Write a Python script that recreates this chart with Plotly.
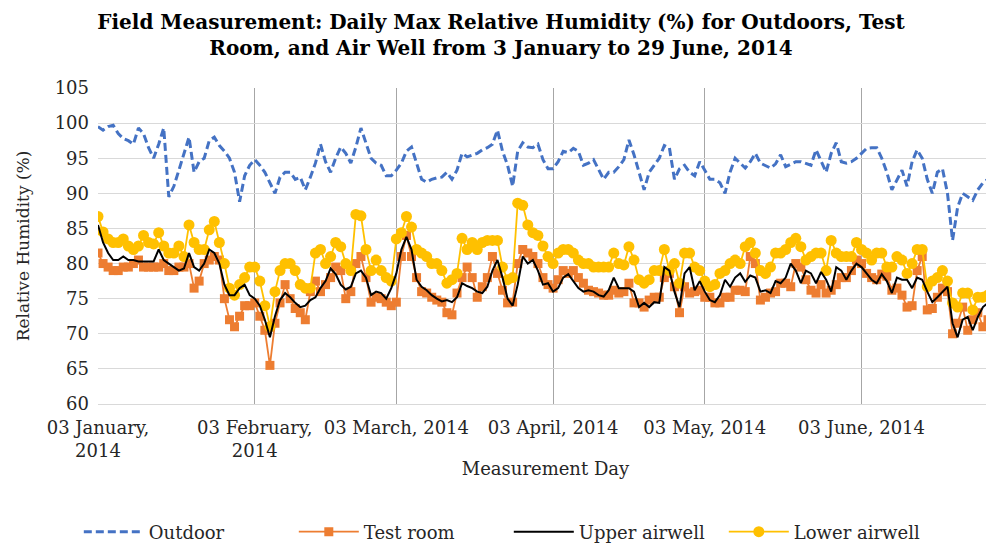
import pandas as pd
import plotly.graph_objects as go

start_date = "2014-01-03"
n_days = 178
dates = pd.date_range(start_date, periods=n_days, freq="D")

outdoor = [
    99.5, 99, 99.5, 99.7, 98.5, 97.8, 97.5, 97, 99.3, 98.5,
    96.5, 95, 97, 99.3, 89.5, 91, 93.3, 95.5, 98, 93,
    94.5, 95, 97.5, 98, 96.8, 96, 95, 93, 88.8, 92.5,
    94, 94.8, 94, 93, 91.5, 90, 92.3, 93, 93, 92,
    92.3, 90.5, 92.3, 94.3, 97, 94.5, 93, 95, 96.6, 95.7,
    94.3, 96.6, 99.3, 97, 95, 94.3, 94, 92.5, 92.5, 93.3,
    94.3, 96, 96.6, 94.3, 92, 91.6, 92, 92.2, 92.3, 93,
    92, 93.3, 95.7, 95.2, 95.5, 95.7, 96.2, 96.5, 97, 99,
    96, 94, 91, 96, 97.2, 96.6, 96.5, 97, 94.8, 93.5,
    93.5, 94.5, 96, 95.8, 96.4, 96, 94, 94.3, 94.8, 93.3,
    92, 93, 93, 93.8, 94.8, 97.6, 95.5, 93, 90.5, 93,
    94, 95, 96.8, 96.5, 92, 93.5, 94, 93, 92.5, 94.5,
    93.3, 92, 92, 91.5, 90, 93, 95, 94.3, 93.6, 94.5,
    95.7, 94.3, 94, 93.6, 94.2, 95.5, 93.8, 94.2, 94.5, 94.5,
    94.2, 94, 96.2, 94.5, 93, 95.7, 97.2, 94.5, 94.3, 94.5,
    95, 95.7, 96.4, 96.5, 96.5, 95, 93, 90.5, 92, 93.3,
    91, 94.5, 96.2, 95, 92, 90, 93, 93.5, 90, 83.3,
    88, 90, 89.5, 89, 90.5, 91.5, 92, 95.7,
]

test_room = [
    81.5, 80, 79.5, 79, 79, 79.5, 79.5, 80, 80.5, 79.5,
    79.5, 79.5, 79.5, 80, 79, 79, 79.5, 79.5, 80, 76.5,
    77.5, 80, 80.5, 81, 80.5, 75, 72, 71, 72.5, 74,
    74, 74.4, 72.5, 70.5, 65.5, 71.5, 74.4, 77, 75, 73.6,
    73, 72, 76, 77.5, 76, 77, 78, 79.5, 79, 75,
    76, 80, 81, 78, 74.5, 75.2, 75, 74.5, 74, 74.5,
    81, 84, 81, 78, 76, 75.8, 75.2, 74.8, 74.5, 73,
    72.7, 75.8, 78, 79.5, 78, 75.2, 76.7, 78, 81, 78.6,
    76.2, 74.4, 74.5, 80, 82, 81.5, 81, 80, 78, 77,
    76.5, 77.7, 79, 78.6, 79, 78, 77.2, 76.2, 76, 75.8,
    75.5, 75.5, 76.2, 75.8, 76, 77.2, 74.4, 74.4, 73.8, 74.8,
    75.2, 75.2, 78, 78.6, 76.7, 73, 76.7, 75.8, 76, 76.2,
    75.2, 75.2, 74.4, 74.4, 75.2, 75.2, 76.2, 76.2, 76, 81,
    80, 74.8, 75.2, 75.8, 76, 77.2, 77.2, 76.7, 80, 79.5,
    77.7, 76.2, 75.8, 77, 75.8, 76.2, 77, 78, 78, 79,
    80.5, 80, 78.6, 78, 77.7, 78.5, 78.2, 76.2, 76.5, 75.5,
    73.8, 74, 79, 81, 73.4, 73.6, 75.2, 76.5, 76, 70,
    71.5, 73.8, 70.5, 72, 73, 71, 72, 71.5,
]

upper_airwell = [
    85.5, 83, 81.5, 80.5, 80.5, 81, 80.5, 80.5, 80.3, 80.3,
    80.2, 80.3, 82, 80.5, 80, 79.5, 79, 79.3, 81.5, 79.5,
    79, 80, 82, 81.5, 80, 77, 75.5, 75.5, 76.5, 77,
    75.5, 75, 74, 72, 69.5, 72.5, 74.8, 75.8, 75.2, 74.4,
    73.8, 74, 74.8, 75.2, 76.5, 77.5, 79.3, 78.5, 77, 76.3,
    76.7, 78.6, 79, 78, 75.5, 76, 75.8, 75, 76.5, 78.6,
    82, 83.8, 82, 77.7, 76.7, 76.2, 75.5, 75, 74.6, 74.8,
    74.5, 75.2, 77.2, 76.8, 76.5, 76, 75.8, 76.7, 79, 80.5,
    78, 75, 74, 77, 81, 80, 80.5, 79, 77, 77.2,
    76, 76.5, 78, 78.5, 77.5, 76.5, 76, 76.2, 76, 75.5,
    75.3, 76.2, 78, 76.5, 76.5, 76.5, 76, 73.8, 74.4, 73.8,
    74.5, 74.4, 79.5, 79, 76, 73.8, 78.6, 79.5, 76.2, 77.5,
    76, 74.8, 74.5, 75.5, 77.7, 76.7, 78, 78.6, 77.4, 78.3,
    78, 76, 76.2, 75.8, 77.5, 77.2, 78, 80, 79, 77.2,
    79, 78.6, 77.2, 78.8, 77.7, 76, 79.5, 79, 77.7, 79,
    80, 79.5, 78.6, 77.7, 77.2, 78.5, 77.5, 75.8, 78, 77.7,
    77.7, 76.5, 78, 77.7, 76, 74.5, 75.2, 76, 76.7, 71.5,
    69.5, 72, 72.4, 70.5, 72.4, 73.8, 74.4, 72.8,
]

lower_airwell = [
    86.7, 84.5, 83.5, 83, 83, 83.5, 82.5, 82, 82.5, 84,
    83, 82.8, 84.4, 82.5, 81.5, 81.5, 82.5, 81, 85.5, 83,
    82, 82, 84.8, 86, 83, 80, 76.5, 75.5, 77, 78,
    79.5, 79.5, 77.5, 74, 71, 76, 79, 80, 80, 79,
    77, 76.5, 76.5, 81.5, 82, 80, 81, 83, 82.4, 80,
    79, 87, 86.8, 82, 79, 80.5, 79, 78, 77.5, 83.5,
    84.4, 86.7, 85.2, 82, 81.5, 81, 80, 80, 79, 77.2,
    77.7, 78.6, 83.6, 82, 83, 82, 83, 83.3, 83.3, 83.3,
    79.5, 77.7, 78, 88.6, 88.3, 85.5, 84.4, 84, 82.5, 81,
    80, 81.5, 82, 82, 81.5, 80.5, 80, 80, 79.5, 79.5,
    79.5, 79.5, 81.5, 80, 79.8, 82.4, 80.5, 77.7, 77.2, 77.7,
    79, 79, 82, 79, 80, 77.2, 81.5, 81.5, 79.5, 79,
    77.5, 76.7, 77, 78.6, 79, 80, 80.5, 80, 82.4, 83,
    81.5, 79, 78.6, 79.5, 81.5, 81.5, 82, 83, 83.6, 82.4,
    80.5, 81, 81.5, 81.5, 79, 83.3, 81.5, 81, 81, 81,
    83, 82, 81.5, 80.5, 81.5, 81.5, 79.5, 79.5, 81, 80.5,
    78.6, 80, 82, 82, 76.7, 77.5, 78, 79, 77.5, 74.4,
    73.8, 75.8, 75.8, 73.4, 75.2, 75.2, 75.5, 75.2,
]

tick_dates = ["2014-01-03", "2014-02-03", "2014-03-03", "2014-04-03", "2014-05-03", "2014-06-03"]
tick_labels = ["03 January,<br>2014", "03 February,<br>2014", "03 March, 2014",
               "03 April, 2014", "03 May, 2014", "03 June, 2014"]
y_ticks = [60, 65, 70, 75, 80, 85, 90, 95, 100, 105]

FONT = "DejaVu Serif"
TXT = "#262626"

fig = go.Figure()
fig.add_trace(go.Scatter(x=dates, y=outdoor, name="Outdoor", mode="lines",
                         line=dict(color="#4472C4", width=3, dash="8px,4px"), legendrank=1))
fig.add_trace(go.Scatter(x=dates, y=test_room, name="Test room", mode="lines+markers",
                         line=dict(color="#ED7D31", width=1.8),
                         marker=dict(symbol="square", size=9, color="#ED7D31"), legendrank=2))
fig.add_trace(go.Scatter(x=dates, y=lower_airwell, name="Lower airwell", mode="lines+markers",
                         line=dict(color="#FFC000", width=1.8),
                         marker=dict(symbol="circle", size=11, color="#FFC000"), legendrank=4))
fig.add_trace(go.Scatter(x=dates, y=upper_airwell, name="Upper airwell", mode="lines",
                         line=dict(color="#000000", width=2), legendrank=3))

fig.update_layout(
    width=986, height=540,
    margin=dict(l=90, r=1, t=80, b=144, autoexpand=False),
    paper_bgcolor="white", plot_bgcolor="white",
    font=dict(family=FONT, size=18, color=TXT),
    title=dict(text="<b>Field Measurement: Daily Max Relative Humidity (%) for Outdoors, Test<br>Room, and Air Well from 3 January to 29 June, 2014</b>",
               x=0.5, xanchor="center", xref="container", y=0.961, yanchor="top",
               font=dict(family=FONT, size=20, color="#000000")),
    xaxis=dict(type="date", range=["2014-01-03", "2014-06-29"],
               tickvals=tick_dates, ticktext=tick_labels, tickmode="array",
               showgrid=True, gridcolor="#a6a6a6", gridwidth=1,
               showline=True, linecolor="#d9d9d9", zeroline=False, ticks="",
               ticklabelstandoff=7,
               tickfont=dict(family=FONT, size=18, color=TXT),
               title=dict(text="Measurement Day", font=dict(family=FONT, size=18, color=TXT), standoff=2)),
    yaxis=dict(range=[60, 105], tickvals=y_ticks, showgrid=True, gridcolor="#d9d9d9",
               zeroline=False, showline=False, ticks="",
               ticklabelstandoff=8,
               tickfont=dict(family=FONT, size=18, color=TXT),
               title=dict(text="Relative Humidity (%)", font=dict(family=FONT, size=17, color=TXT), standoff=20)),
    legend=dict(orientation="h", x=0.459, xanchor="center", y=-0.405, yanchor="middle",
                font=dict(family=FONT, size=18, color=TXT), itemwidth=60,
                entrywidth=140, entrywidthmode="pixels"),
    showlegend=True,
)

fig.write_html("out.html")
